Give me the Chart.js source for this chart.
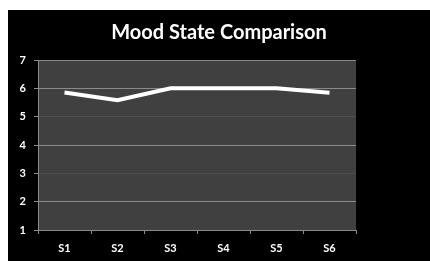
<!DOCTYPE html>
<html>
<head>
<meta charset="utf-8">
<script src="https://cdn.jsdelivr.net/npm/chart.js@4/dist/chart.umd.min.js"></script>
<style>
    html, body { margin: 0; padding: 0; background: #ffffff; }
    #wrap { position: absolute; left: 8px; top: 10px; width: 422px; height: 251px; background: #000000; }
</style>
</head>
<body>
<div id="wrap"><canvas id="moodChart" width="422" height="251"></canvas></div>
<script>
// Chart data
const sessions = ['S1', 'S2', 'S3', 'S4', 'S5', 'S6'];
const moodValues = [5.85, 5.58, 6.0, 6.0, 6.0, 5.84];
const yMin = 1;
const yMax = 7;

// Paint the dark grey plot area behind the line
const plotBackground = {
    id: 'plotBackground',
    beforeDraw(chart) {
        const { ctx, chartArea } = chart;
        ctx.save();
        ctx.fillStyle = '#404040';
        ctx.fillRect(chartArea.left, chartArea.top, chartArea.right - chartArea.left, chartArea.bottom - chartArea.top);
        ctx.restore();
    }
};

const ctx = document.getElementById('moodChart').getContext('2d');
const moodChart = new Chart(ctx, {
    type: 'line',
    data: {
        labels: sessions,
        datasets: [{
            label: 'Mood',
            data: moodValues,
            borderColor: '#ffffff',
            borderWidth: 4,
            pointRadius: 0,
            tension: 0,
            fill: false
        }]
    },
    options: {
        responsive: false,
        animation: false,
        plugins: {
            legend: { display: false },
            tooltip: { enabled: false },
            title: {
                display: true,
                text: 'Mood State Comparison',
                color: '#ffffff',
                font: { family: 'Lato', size: 20, weight: 'bold', lineHeight: 1.2 },
                padding: { top: 11, bottom: 15 }
            }
        },
        scales: {
            x: {
                offset: true,
                grid: {
                    offset: true,
                    drawOnChartArea: false,
                    tickLength: 4,
                    tickColor: '#8a8a8a'
                },
                border: { color: '#8a8a8a', width: 1 },
                ticks: {
                    color: '#ffffff',
                    padding: 8,
                    font: { family: 'Lato', size: 11, weight: 'bold' }
                },
                afterFit: function(scale) { scale.height = 31; }
            },
            y: {
                min: yMin,
                max: yMax,
                grid: {
                    color: function(context) {
                        const v = context.tick.value;
                        if (v === 3 || v === 5) return '#4c4c4c';
                        return '#8a8a8a';
                    },
                    tickLength: 4,
                    tickColor: '#8a8a8a'
                },
                border: { color: '#8a8a8a', width: 1 },
                ticks: {
                    stepSize: 1,
                    color: '#ffffff',
                    padding: 8,
                    font: { family: 'Lato', size: 11, weight: 'bold' }
                },
                afterFit: function(scale) { scale.width = 30; }
            },
            // empty right-hand axis, only reserves the black margin so the title stays centred on the canvas
            spacer: {
                type: 'linear',
                position: 'right',
                grid: { display: false },
                border: { display: false },
                ticks: { display: false },
                afterFit: function(scale) { scale.width = 74; }
            }
        }
    },
    plugins: [plotBackground]
});
</script>
</body>
</html>
